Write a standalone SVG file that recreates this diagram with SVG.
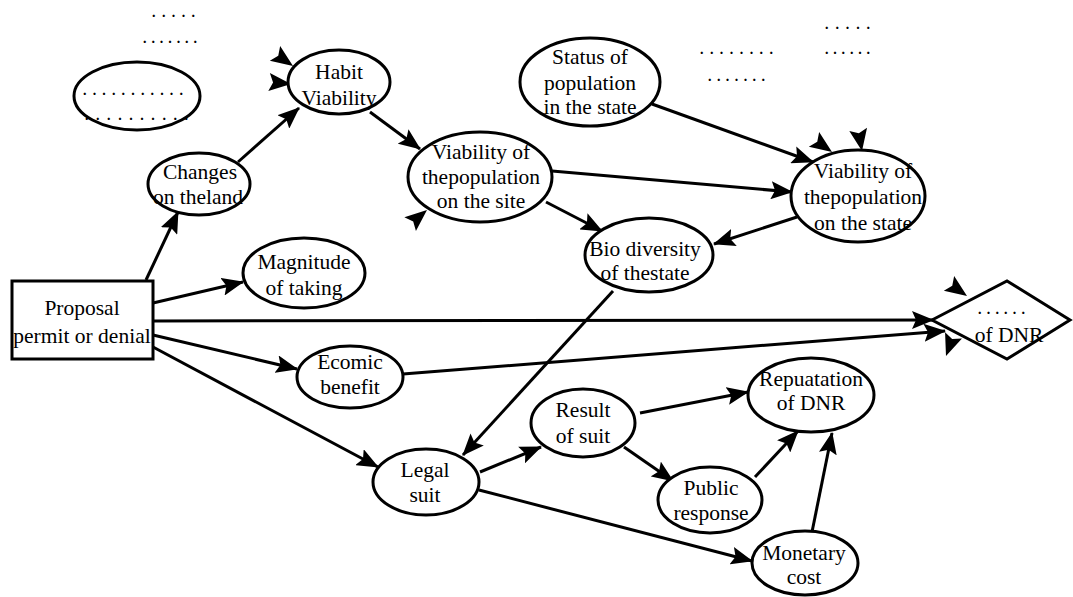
<svg xmlns="http://www.w3.org/2000/svg" xmlns:xlink="http://www.w3.org/1999/xlink" width="1073" height="597" viewBox="0 0 1073 597">
<style>
.n{fill:#fff;stroke:#000;stroke-width:3}
.t{font-family:"Liberation Serif","Times New Roman",serif;font-size:21.5px;fill:#000;text-anchor:middle}
.d{font-family:"Liberation Serif","Times New Roman",serif;font-size:14px;fill:#000;font-weight:bold}
.c line{stroke:#000;stroke-width:3;marker-end:url(#a)}
</style>
<defs>
<marker id="a" markerUnits="userSpaceOnUse" markerWidth="22" markerHeight="18" viewBox="0 0 22 18" refX="21" refY="9" orient="auto">
<path d="M0,0 L22,9 L0,18 L4,9 z" fill="#000"/>
</marker>
<path id="ah" d="M0,0 L-22,-9 L-18,0 L-22,9 z" fill="#000"/>
</defs>
<rect width="1073" height="597" fill="#fff"/>

<g class="c">
<line x1="146" y1="280" x2="178" y2="212"/>
<line x1="238" y1="162" x2="299" y2="108"/>
<line x1="370" y1="112" x2="420" y2="149"/>
<line x1="153" y1="303" x2="243" y2="282"/>
<line x1="153" y1="321" x2="933" y2="320"/>
<line x1="153" y1="335" x2="297" y2="369"/>
<line x1="153" y1="347" x2="378" y2="467"/>
<line x1="403" y1="374" x2="945" y2="331"/>
<line x1="613" y1="291" x2="463" y2="455"/>
<line x1="480" y1="472" x2="541" y2="447"/>
<line x1="640" y1="413" x2="748" y2="392"/>
<line x1="624" y1="447" x2="673" y2="481"/>
<line x1="755" y1="477" x2="798" y2="431"/>
<line x1="812" y1="532" x2="832" y2="433"/>
<line x1="479" y1="490" x2="752" y2="561"/>
<line x1="552" y1="171" x2="792" y2="192"/>
<line x1="546" y1="202" x2="602" y2="231"/>
<line x1="652" y1="104" x2="813" y2="162"/>
<line x1="797" y1="217" x2="714" y2="244"/>
</g>

<g id="stray-arrowheads">
<use xlink:href="#ah" transform="translate(293,66) rotate(35)"/>
<use xlink:href="#ah" transform="translate(291,84) rotate(5)"/>
<use xlink:href="#ah" transform="translate(427,210) rotate(-40)"/>
<use xlink:href="#ah" transform="translate(832,152) rotate(35)"/>
<use xlink:href="#ah" transform="translate(862,151) rotate(80)"/>
<use xlink:href="#ah" transform="translate(967,296) rotate(35)"/>
<use xlink:href="#ah" transform="translate(946,356) rotate(110)"/>
</g>

<g id="labels-top">
<text class="d" x="152" y="17" textLength="43" lengthAdjust="spacing">.....</text>
<text class="d" x="143" y="43" textLength="54" lengthAdjust="spacing">.......</text>
<text class="d" x="825" y="29" textLength="45" lengthAdjust="spacing">.....</text>
<text class="d" x="700" y="54" textLength="73" lengthAdjust="spacing">........</text>
<text class="d" x="825" y="54" textLength="45" lengthAdjust="spacing">......</text>
<text class="d" x="708" y="81" textLength="57" lengthAdjust="spacing">.......</text>
</g>

<g id="dotted-ellipse">
<ellipse class="n" cx="137" cy="96" rx="63" ry="34"/>
<text class="d" x="83" y="95" textLength="100" lengthAdjust="spacing">...........</text>
<text class="d" x="85" y="120" textLength="103" lengthAdjust="spacing">..........</text>
</g>

<g id="changes">
<ellipse class="n" cx="199" cy="184" rx="51" ry="31"/>
<text class="t" x="200" y="179">Changes</text>
<text class="t" x="198" y="204">on theland</text>
</g>

<g id="habit">
<ellipse class="n" cx="339" cy="82" rx="51" ry="32"/>
<text class="t" x="339" y="79">Habit</text>
<text class="t" x="339" y="105">Viability</text>
</g>

<g id="viab-site">
<ellipse class="n" cx="480" cy="177" rx="72" ry="45"/>
<text class="t" x="481" y="159">Viability of</text>
<text class="t" x="481" y="184">thepopulation</text>
<text class="t" x="481" y="208">on the site</text>
</g>

<g id="status">
<ellipse class="n" cx="590" cy="82" rx="70" ry="44"/>
<text class="t" x="590" y="64">Status of</text>
<text class="t" x="590" y="90">population</text>
<text class="t" x="590" y="114">in the state</text>
</g>

<g id="viab-state">
<ellipse class="n" cx="858" cy="196" rx="67" ry="46"/>
<text class="t" x="863" y="178">Viability of</text>
<text class="t" x="863" y="204">thepopulation</text>
<text class="t" x="863" y="230">on the state</text>
</g>

<g id="bio">
<ellipse class="n" cx="649" cy="255" rx="64" ry="37"/>
<text class="t" x="645" y="256">Bio diversity</text>
<text class="t" x="645" y="280">of thestate</text>
</g>

<g id="magnitude">
<ellipse class="n" cx="304" cy="273" rx="61" ry="35"/>
<text class="t" x="304" y="269">Magnitude</text>
<text class="t" x="304" y="295">of taking</text>
</g>

<g id="proposal">
<rect class="n" x="12" y="281" width="141" height="78"/>
<text class="t" x="82" y="315">Proposal</text>
<text class="t" x="82" y="343">permit or denial</text>
</g>

<g id="ecomic">
<ellipse class="n" cx="350" cy="377" rx="53" ry="31"/>
<text class="t" x="350" y="369">Ecomic</text>
<text class="t" x="350" y="394">benefit</text>
</g>

<g id="dnr-diamond">
<polygon class="n" points="932,320 1007,281 1070,320 1007,359"/>
<text class="d" x="978" y="314" textLength="47" lengthAdjust="spacing">......</text>
<text class="t" x="1009" y="342">of DNR</text>
</g>

<g id="legal">
<ellipse class="n" cx="426" cy="482" rx="53" ry="33"/>
<text class="t" x="425" y="477">Legal</text>
<text class="t" x="425" y="502">suit</text>
</g>

<g id="result">
<ellipse class="n" cx="583" cy="423" rx="52" ry="34"/>
<text class="t" x="583" y="417">Result</text>
<text class="t" x="583" y="443">of suit</text>
</g>

<g id="repuatation">
<ellipse class="n" cx="811" cy="395" rx="63" ry="37"/>
<text class="t" x="811" y="386">Repuatation</text>
<text class="t" x="811" y="410">of DNR</text>
</g>

<g id="public">
<ellipse class="n" cx="710" cy="500" rx="52" ry="33"/>
<text class="t" x="711" y="495">Public</text>
<text class="t" x="711" y="520">response</text>
</g>

<g id="monetary">
<ellipse class="n" cx="805" cy="563" rx="53" ry="32"/>
<text class="t" x="804" y="560">Monetary</text>
<text class="t" x="804" y="584">cost</text>
</g>
</svg>
